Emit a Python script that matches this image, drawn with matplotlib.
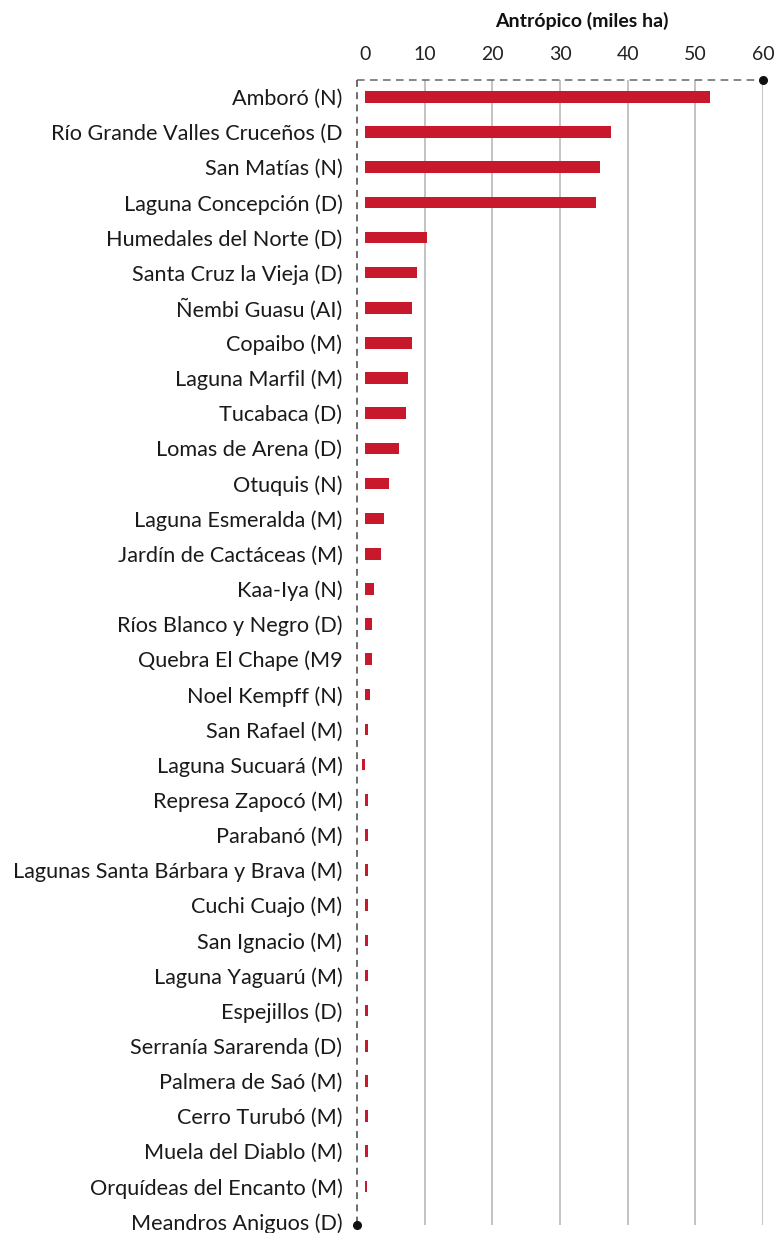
import matplotlib
matplotlib.use("Agg")
import matplotlib.pyplot as plt
import numpy as np

plt.rcParams['font.family'] = ['Lato', 'DejaVu Sans']

categories = [
    "Amboró (N)", "Río Grande Valles Cruceños (D", "San Matías (N)",
    "Laguna Concepción (D)", "Humedales del Norte (D)", "Santa Cruz la Vieja (D)",
    "Ñembi Guasu (AI)", "Copaibo (M)", "Laguna Marfil (M)", "Tucabaca (D)",
    "Lomas de Arena (D)", "Otuquis (N)", "Laguna Esmeralda (M)",
    "Jardín de Cactáceas (M)", "Kaa-Iya (N)", "Ríos Blanco y Negro (D)",
    "Quebra El Chape (M9", "Noel Kempff (N)", "San Rafael (M)",
    "Laguna Sucuará (M)", "Represa Zapocó (M)", "Parabanó (M)",
    "Lagunas Santa Bárbara y Brava (M)", "Cuchi Cuajo (M)", "San Ignacio (M)",
    "Laguna Yaguarú (M)", "Espejillos (D)", "Serranía Sararenda (D)",
    "Palmera de Saó (M)", "Cerro Turubó (M)", "Muela del Diablo (M)",
    "Orquídeas del Encanto (M)", "Meandros Aniguos (D)",
]
values = [
    52.2, 37.6, 35.9, 35.3, 10.4, 8.8, 8.1, 8.1, 7.6, 7.2,
    6.2, 4.7, 4.0, 3.5, 2.5, 2.2, 2.2, 1.9, 1.6, 0.7,
    1.6, 1.6, 1.6, 1.6, 1.6, 1.6, 1.6, 1.6, 1.6, 1.6,
    1.6, 1.5, 1.15,
]
tick_values = [0, 10, 20, 30, 40, 50, 60]
tick_labels = ["0", "10", "20", "30", "40", "50", "60"]
title = "Antrópico (miles ha)"

BAR_GAP = 1.15
BAR_COLOR = "#c8182c"
W, H = 779, 1233

fig = plt.figure(figsize=(W / 100, H / 100), dpi=100)
ax = fig.add_axes([357 / W, 1 - 1225 / H, 406 / W, (1225 - 80) / H])

y = np.arange(len(categories))
vals = np.array(values)
ax.barh(y, vals - BAR_GAP, left=BAR_GAP, height=0.33, color=BAR_COLOR, zorder=3)

ax.set_xlim(0, 60)
ax.set_ylim(32.1, -0.48)

# gridlines
for t in tick_values[1:]:
    ax.axvline(t, color="#b3b3b3", lw=1.1, zorder=1)

# dashed frame lines
ax.plot([0, 60], [-0.48, -0.48], ls=(0, (5, 3.5)), color="#666666", lw=1.1,
        zorder=4, clip_on=False)
ax.plot([0, 0], [-0.48, 32.1], ls=(0, (4.5, 3.5)), color="#444444", lw=1.1,
        zorder=4, clip_on=False)
ax.plot([60], [-0.48], 'o', color="#111111", ms=5.5, clip_on=False, zorder=5)
ax.plot([0], [32.1], 'o', color="#111111", ms=5.5, clip_on=False, zorder=5)

for s in ax.spines.values():
    s.set_visible(False)

ax.xaxis.tick_top()
tpos = [BAR_GAP] + tick_values[1:]
ax.set_xticks(tpos)
ax.set_xticklabels(tick_labels, fontsize=14, color="#222222")
ax.tick_params(axis='x', length=0, pad=12)

ax.set_yticks(y)
ax.set_yticklabels(categories, fontsize=15.6, color="#1a1a1a")
ax.tick_params(axis='y', length=0, pad=10.5)

fig.text(582 / W, 1 - 21 / H, title, ha="center", va="center",
         fontsize=14, fontweight="bold", color="#111111")

fig.savefig("out.png", dpi=100)
